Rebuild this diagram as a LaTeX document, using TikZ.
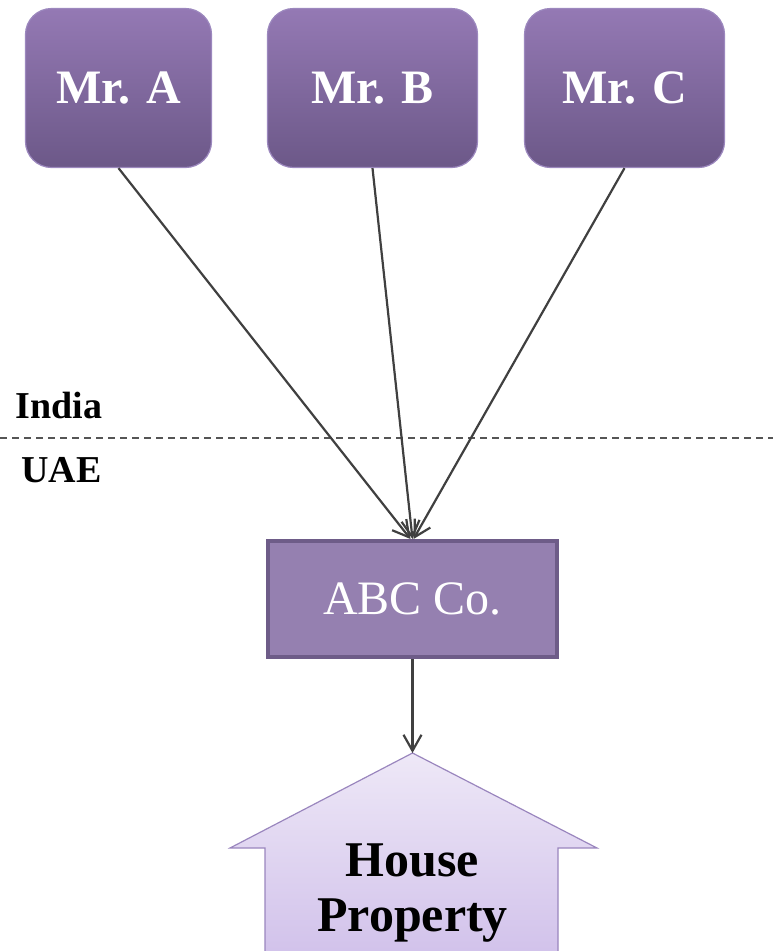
\documentclass[tikz,border=0pt]{standalone}
\usepackage{fontspec}
\setmainfont{Liberation Serif}
\usetikzlibrary{arrows.meta}

\definecolor{persontop}{HTML}{9479B4}
\definecolor{personbot}{HTML}{6C5888}
\definecolor{personline}{HTML}{9C88BE}
\definecolor{linkgray}{HTML}{404040}
\definecolor{abcfill}{HTML}{9580B0}
\definecolor{abcline}{HTML}{6E5C88}
\definecolor{housetop}{HTML}{EEE8F7}
\definecolor{housebot}{HTML}{D0C0EA}
\definecolor{houseline}{HTML}{9A86BE}
\definecolor{dashgray}{HTML}{555555}

\begin{document}
\begin{tikzpicture}[x=1pt,y=-1pt,
  person/.style={draw=personline, line width=1.2pt, rounded corners=26pt,
    top color=persontop, bottom color=personbot, minimum height=159pt,
    inner sep=0pt, text=white, font=\fontsize{48}{52}\selectfont\bfseries},
  link/.style={draw=linkgray, line width=2.2pt,
    -{Straight Barb[length=16pt,width=18pt,line width=2.2pt]}},
  place/.style={anchor=base west, font=\fontsize{38}{42}\selectfont\bfseries}]

\useasboundingbox (0,0) rectangle (773,951);

\node[person, minimum width=186pt] (mra) at (118.5,88) {Mr. A};
\node[person, minimum width=210pt] (mrb) at (372.5,88) {Mr. B};
\node[person, minimum width=200pt] (mrc) at (624.5,88) {Mr. C};

\node[place] (india) at (12,418) {India};
\node[place] (uae) at (18,482) {UAE};
\draw[dashgray, line width=1.3pt, dash pattern=on 7pt off 5pt] (0,438) -- (773,438);

\node[draw=abcline, line width=4pt, fill=abcfill, minimum width=289pt,
  minimum height=116pt, text=white, font=\fontsize{48}{52}\selectfont] (abc) at (412.5,599) {ABC Co.};

\draw[link] (mra.south) -- ([xshift=-2pt]abc.north);
\draw[link] (mrb.south) -- (abc.north);
\draw[link] (mrc.south) -- ([xshift=1pt]abc.north);

% house
\draw[houseline, line width=1.2pt, top color=housetop, bottom color=housebot]
  (265,965) -- (265,848) -- (230,848) -- (412.5,753) coordinate (roof)
  -- (597,848) -- (558,848) -- (558,965) -- cycle;
\node[align=center, font=\fontsize{50}{55}\selectfont\bfseries] (house) at (412.5,893) {House\\Property};

\draw[link] (abc.south) -- (roof);

\end{tikzpicture}
\end{document}
